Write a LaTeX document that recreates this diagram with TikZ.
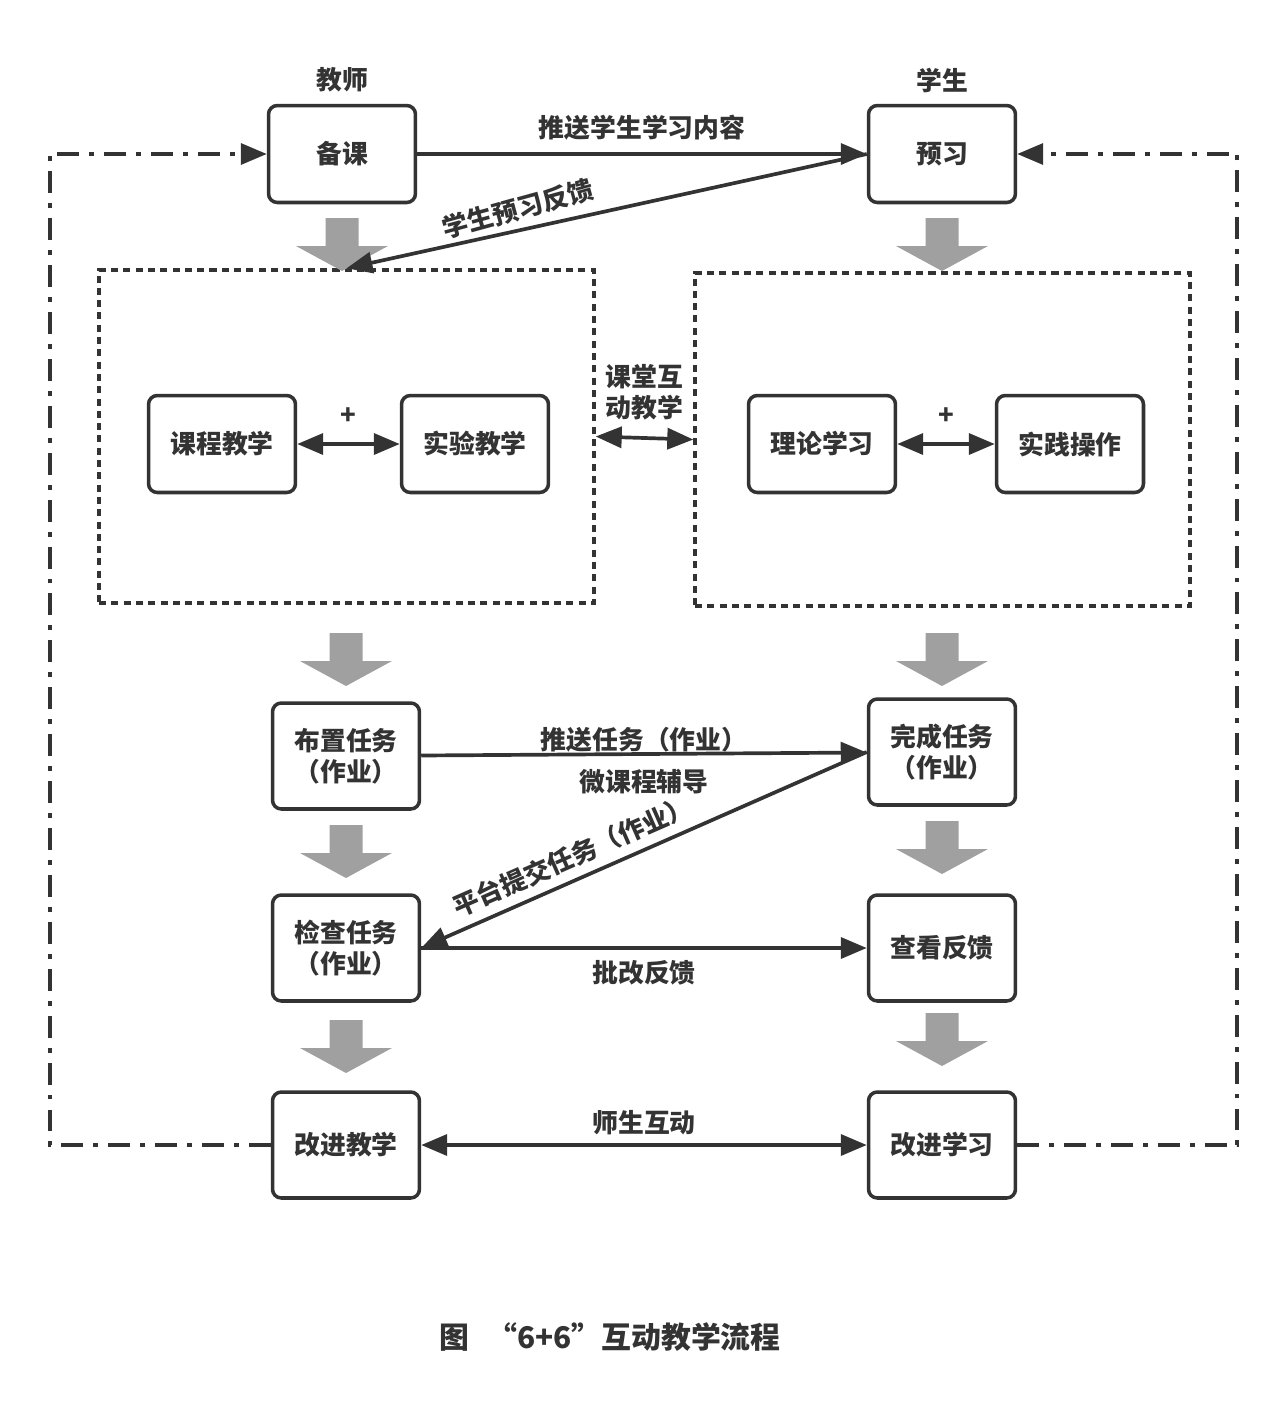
\documentclass[tikz,border=0pt]{standalone}
\usepackage{fontspec}
\setmainfont{Noto Sans CJK SC}
\usetikzlibrary{arrows.meta}

\definecolor{darkline}{HTML}{333333}
\definecolor{blockgray}{HTML}{A0A0A0}

\tikzset{
	>={Triangle[length=0.52cm, width=0.42cm]},
	stage/.style={draw=darkline, line width=2pt, rounded corners=5pt,
		minimum width=2.94cm, minimum height=1.94cm, align=center,
		text=darkline, font=\fontsize{14.7}{17.6}\selectfont\bfseries},
	tallstage/.style={stage, minimum height=2.12cm},
	group/.style={draw=darkline, line width=2pt, dash pattern=on 4pt off 3pt,
		minimum width=9.9cm, minimum height=6.66cm},
	link/.style={draw=darkline, line width=2.1pt},
	backloop/.style={draw=darkline, line width=2pt,
		dash pattern=on 12.5pt off 5.7pt on 2.8pt off 5.7pt},
	tag/.style={text=darkline, inner sep=1pt, align=center,
		font=\fontsize{14.7}{17.6}\selectfont\bfseries},
}

\begin{document}
\begin{tikzpicture}[x=0.02cm, y=-0.02cm]
	\useasboundingbox (0,0) rectangle (1287,1428);

	% teacher / student heads
	\node[tag] (jsl) at (342,80) {教师};
	\node[tag] (xsl) at (942,80) {学生};
	\node[stage] (bk) at (342,154) {备课};
	\node[stage] (yx) at (942,154) {预习};

	% classroom groups
	\node[group] (lgrp) at (346.5,436.5) {};
	\node[group] (rgrp) at (942.5,439.5) {};
	\node[stage] (kc) at (222,444) {课程教学};
	\node[stage] (sy) at (475,444) {实验教学};
	\node[stage] (ll) at (822,444) {理论学习};
	\node[stage] (sj) at (1070,444) {实践操作};

	% after class
	\node[tallstage] (bz) at (346,756) {布置任务\\（作业）};
	\node[tallstage] (wc) at (942,752) {完成任务\\（作业）};
	\node[tallstage] (jc) at (346,948) {检查任务\\（作业）};
	\node[tallstage] (ck) at (942,948) {查看反馈};
	\node[tallstage] (gj) at (346,1145) {改进教学};
	\node[tallstage] (gx) at (942,1145) {改进学习};

	% gray block arrows
	\foreach \ax/\ay in {342/218, 942/218, 346/633, 942/633, 346/825, 942/821, 346/1020, 942/1013}
		\fill[blockgray] (\ax-16.5,\ay) -- (\ax+16.5,\ay) -- (\ax+16.5,\ay+28) -- (\ax+46,\ay+28)
			-- (\ax,\ay+53) -- (\ax-46,\ay+28) -- (\ax-16.5,\ay+28) -- cycle;

	% before class
	\draw[link, ->] (bk) -- node[tag, midway, yshift=14.8pt] {推送学生学习内容} (yx);
	\draw[link, <-] (lgrp.north) -- node[tag, sloped, above=3pt, pos=0.34, rotate=3] {学生预习反馈} (yx.west);

	% in class
	\draw[link, <->] (kc) -- node[tag, midway, yshift=16pt] {+} (sy);
	\draw[link, <->] (ll) -- node[tag, midway, yshift=16pt] {+} (sj);
	\draw[link, <->] (lgrp.east) -- node[tag, midway, yshift=26pt] {课堂互\\动教学} (rgrp.west);

	% tasks
	\draw[link, ->] (bz) -- node[tag, midway, yshift=8pt] {推送任务（作业）}
		node[tag, midway, yshift=-16pt] {微课程辅导} (wc);
	\draw[link, <-] (jc.east) -- node[tag, sloped, above=4pt, pos=0.36] {平台提交任务（作业）} (wc.west);
	\draw[link, ->] (jc) -- node[tag, midway, yshift=-14.2pt] {批改反馈} (ck);
	\draw[link, <->] (gj) -- node[tag, midway, yshift=13pt] {师生互动} (gx);

	% feedback loops
	\draw[backloop, ->] (gj.west) -- ++(-221,0) |- (bk.west);
	\draw[backloop, ->] (gx.east) -- ++(220,0) |- (yx.east);

	% caption
	\node[tag, font=\fontsize{17}{20}\selectfont\bfseries] (cap) at (610,1337) {图\hspace{0.6em}“6+6”互动教学流程};

\end{tikzpicture}
\end{document}
